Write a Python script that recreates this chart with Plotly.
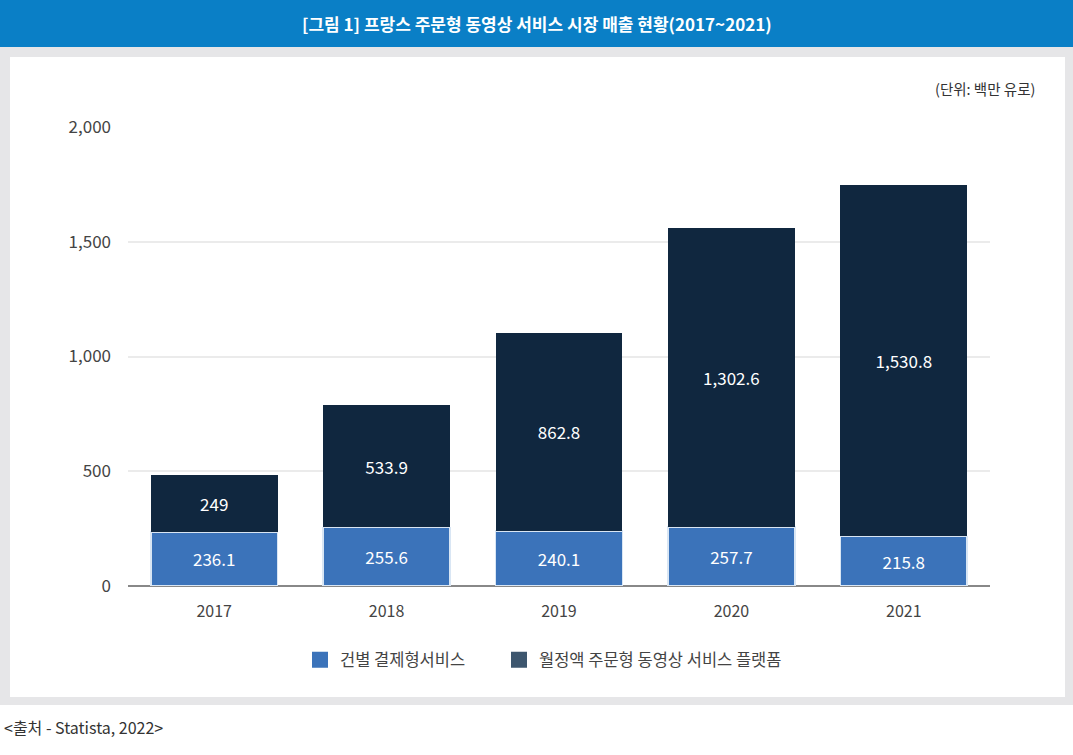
import plotly.graph_objects as go

years = ["2017", "2018", "2019", "2020", "2021"]
per_view = [236.1, 255.6, 240.1, 257.7, 215.8]
subscription = [249, 533.9, 862.8, 1302.6, 1530.8]
series_names = ["건별 결제형서비스", "월정액 주문형 동영상 서비스 플랫폼"]
y_ticks = [0, 500, 1000, 1500, 2000]

title = "[그림 1] 프랑스 주문형 동영상 서비스 시장 매출 현황(2017~2021)"
unit = "(단위: 백만 유로)"
source = "&lt;출처 - Statista, 2022&gt;"

W, H = 1073, 755
# plot area in pixels
left, right, top, bottom = 128, 990, 127, 586
FONT = "Noto Sans CJK KR"
bar_colors = ["#3b73ba", "#10273f"]
legend_colors = ["#3b73ba", "#3d566e"]
legend_refs = ["legend", "legend2"]
legend_left_px = [300, 499]


def px2x(px):
    return (px - left) / (right - left)


def py2y(py):
    return (bottom - py) / (bottom - top)


def lab(v):
    return format(v, ",g")


fig = go.Figure()
for i, vals in enumerate([per_view, subscription]):
    fig.add_trace(go.Bar(
        x=years, y=vals, name=series_names[i], showlegend=False,
        marker=dict(color=bar_colors[i],
                    line=dict(color="#d9e6f4", width=1.5 if i == 0 else 0)),
        text=[lab(v) for v in vals], textposition="inside",
        insidetextanchor="middle", constraintext="none",
        textfont=dict(color="white", size=17, family=FONT),
    ))

# legend entries with bigger square swatches
for i in range(2):
    fig.add_trace(go.Scatter(
        x=[None], y=[None], mode="markers", name=series_names[i],
        legend=legend_refs[i],
        marker=dict(symbol="square", size=17, color=legend_colors[i]),
    ))

shapes = [
    # grey frame
    dict(type="rect", xref="paper", yref="paper", layer="below",
         x0=px2x(0), x1=px2x(W), y0=py2y(47), y1=py2y(705),
         fillcolor="#e6e6e8", line=dict(width=0)),
    # white panel
    dict(type="rect", xref="paper", yref="paper", layer="below",
         x0=px2x(10), x1=px2x(1065), y0=py2y(57), y1=py2y(697),
         fillcolor="white", line=dict(width=0)),
    # header bar
    dict(type="rect", xref="paper", yref="paper", layer="below",
         x0=px2x(0), x1=px2x(W), y0=py2y(0), y1=py2y(47),
         fillcolor="#0a7fc6", line=dict(width=0)),
]

annotations = [
    dict(text="<b>" + title + "</b>", xref="paper", yref="paper",
         x=px2x(537), y=py2y(23), xanchor="center", yanchor="middle",
         showarrow=False, font=dict(color="white", size=17, family=FONT)),
    dict(text=unit, xref="paper", yref="paper",
         x=px2x(1037), y=py2y(88), xanchor="right", yanchor="middle",
         showarrow=False, font=dict(color="#333333", size=14.5, family=FONT)),
    dict(text=source, xref="paper", yref="paper",
         x=px2x(2), y=py2y(727), xanchor="left", yanchor="middle",
         showarrow=False, font=dict(color="#333333", size=16, family=FONT)),
]

legend_style = dict(orientation="h", y=py2y(660), xanchor="left",
                    yanchor="middle", itemwidth=30,
                    font=dict(size=16.5, color="#444444", family=FONT),
                    bgcolor="rgba(0,0,0,0)")

fig.update_layout(
    width=W, height=H,
    margin=dict(l=left, r=W - right, t=top, b=H - bottom, pad=0),
    barmode="stack", bargap=0.264,
    paper_bgcolor="white", plot_bgcolor="white",
    font=dict(family=FONT, color="#444444", size=16),
    shapes=shapes, annotations=annotations,
    legend=dict(x=px2x(legend_left_px[0]), **legend_style),
    legend2=dict(x=px2x(legend_left_px[1]), **legend_style),
    xaxis=dict(showgrid=False, showline=False, zeroline=False,
               ticklabelstandoff=14, tickfont=dict(size=16, color="#444444")),
    yaxis=dict(range=[0, 2000], tickvals=y_ticks, tickformat=",",
               showgrid=True, gridcolor="#ebebeb", gridwidth=1.5,
               zeroline=True, zerolinecolor="#888888", zerolinewidth=2,
               showline=False, ticklabelstandoff=16,
               tickfont=dict(size=17, color="#444444")),
)

fig.write_html("out.html", config={"displayModeBar": False},
               post_script="document.body.style.margin='0';")
